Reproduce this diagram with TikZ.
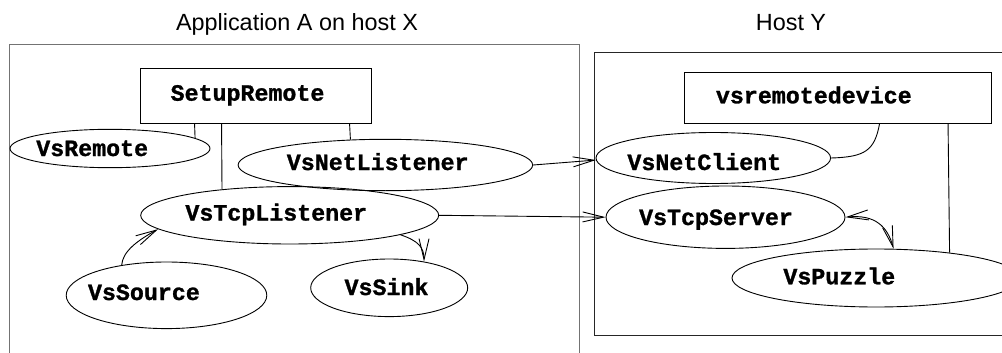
\documentclass[tikz,border=0pt]{standalone}
\usepackage{fontspec}
\setmainfont{Liberation Sans}
\setmonofont{Liberation Mono}[BoldFeatures={FakeBold=1.2}]
\usetikzlibrary{shapes.geometric,arrows.meta}

\begin{document}
\begin{tikzpicture}[x=1pt,y=-1pt,
  ellip/.style={draw, ellipse, inner sep=0pt, line width=0.9pt},
  boxnode/.style={draw, rectangle, inner sep=0pt, line width=0.9pt},
  lbl/.style={font=\fontsize{23.3}{28}\selectfont\ttfamily\bfseries, anchor=base, inner sep=0pt},
  ttl/.style={font=\fontsize{23.4}{28}\selectfont, anchor=base, inner sep=0pt},
  link/.style={line width=0.9pt},
  barb/.tip={Straight Barb[length=21pt,width=10pt,line width=0.9pt]},
  arr/.style={link, -barb},
  darr/.style={link, barb-barb},
  hostframe/.style={draw=black!55, line width=1.4pt},
  remoteframe/.style={draw=black!85, line width=1.1pt}
]
\useasboundingbox (0,0) rectangle (1002,353);
\clip (0,0) rectangle (1002,353);

% host frames
\draw[hostframe] (9.6,360) -- (9.6,44.5) -- (579.3,44.5) -- (579.3,360);
\draw[remoteframe] (1010,52.7) -- (594.5,52.7) -- (594.5,335.3) -- (1010,335.3);

% titles
\node[ttl] (titleA) at (297,31) {Application A on host X};
\node[ttl] (titleY) at (791,31) {Host Y};

% application A
\node[boxnode, minimum width=230.8pt, minimum height=54.7pt] (setup) at (256.2,95.7) {};
\node[ellip, minimum width=200pt, minimum height=38.4pt] (vsremote) at (110,148.5) {};
\node[ellip, minimum width=294.6pt, minimum height=51.4pt] (netlist) at (385.4,165) {};
\node[ellip, minimum width=298pt, minimum height=57.4pt] (tcplist) at (289.7,215.3) {};
\node[ellip, minimum width=200.6pt, minimum height=66.6pt] (source) at (166.5,295.3) {};
\node[ellip, minimum width=157pt, minimum height=57.6pt] (sink) at (389.2,287.8) {};

% host Y
\node[boxnode, minimum width=307.4pt, minimum height=51pt] (rdev) at (838,97.8) {};
\node[ellip, minimum width=234.6pt, minimum height=51pt] (netclient) at (713.3,158) {};
\node[ellip, minimum width=239pt, minimum height=62.4pt] (tcpserver) at (725.5,217.2) {};
\node[ellip, minimum width=288pt, minimum height=58pt] (puzzle) at (876,278) {};

% labels
\node[lbl] (setupT) at (247.5,100.7) {SetupRemote};
\node[lbl] (vsremoteT) at (92.2,156) {VsRemote};
\node[lbl] (netlistT) at (377.7,170) {VsNetListener};
\node[lbl] (tcplistT) at (276.3,220.5) {VsTcpListener};
\node[lbl] (sourceT) at (143.9,300) {VsSource};
\node[lbl] (sinkT) at (386.5,295) {VsSink};
\node[lbl] (rdevT) at (813.8,103.3) {vsremotedevice};
\node[lbl] (netclientT) at (704.3,170) {VsNetClient};
\node[lbl] (tcpserverT) at (716,225) {VsTcpServer};
\node[lbl] (puzzleT) at (839.3,284.3) {VsPuzzle};

% plain links
\draw[link] ([xshift=54.2pt]setup.south west) -- (vsremote.7.9);
\draw[link] ([xshift=81.2pt]setup.south west) -- (tcplist.159.3);
\draw[link] ([xshift=209.2pt]setup.south west) -- (netlist.144.9);
\draw[link] ([xshift=195.7pt]rdev.south west) .. controls +(-5,27) and +(34,-1) .. (netclient.-0.5);
\draw[link] ([xshift=264.2pt]rdev.south west) -- (puzzle.19.1);

% data flow
\draw[arr] (netlist.0.9) -- (netclient.181.8);
\draw[arr] (tcplist.-0.8) -- (tcpserver.180);
\draw[arr] (source.146.1) .. controls +(1,-14) and +(-20,11) .. (tcplist.186.6);
\draw[arr] (tcplist.350.1) .. controls +(18,6) and +(0,-14) .. (sink.37.9);
\draw[darr] (tcpserver.0.6) .. controls +(30,-3) and +(-6,-22) .. (puzzle.59.2);
\end{tikzpicture}
\end{document}
